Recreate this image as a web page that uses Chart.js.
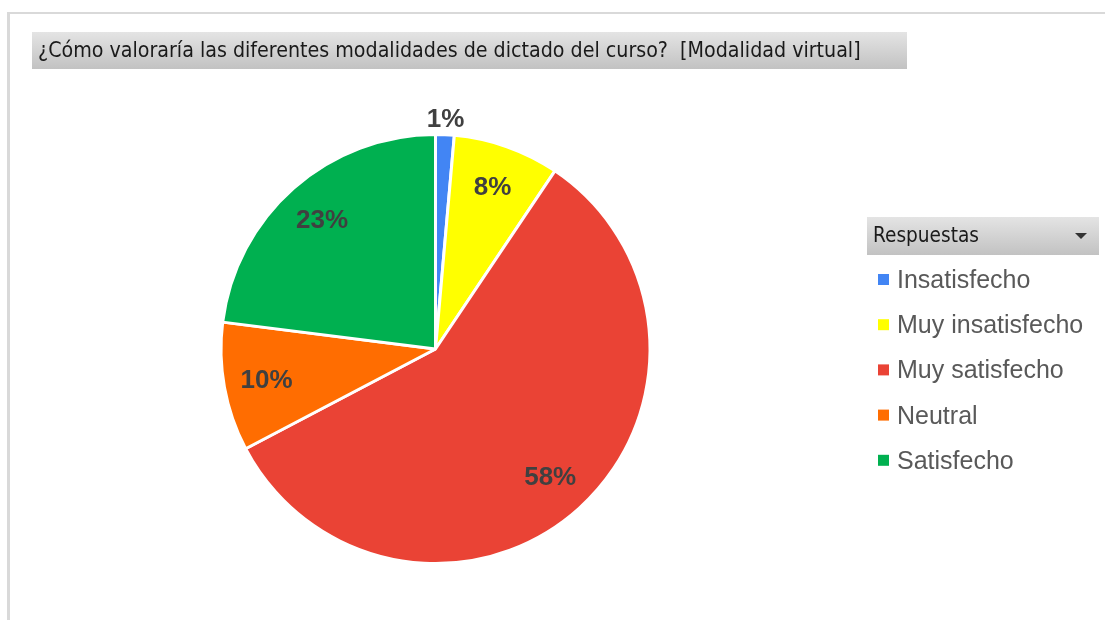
<!DOCTYPE html>
<html>
<head>
<meta charset="utf-8">
<script src="https://cdn.jsdelivr.net/npm/chart.js@4"></script>
<style>
  html, body { margin: 0; padding: 0; background: #fff; }
</style>
</head>
<body>
<canvas id="myChart" width="1105" height="620"></canvas>
<script>
// chart data (percent of answers)
const titleText = "¿Cómo valoraría las diferentes modalidades de dictado del curso?  [Modalidad virtual]";
const legendTitle = "Respuestas";
const categories = ["Insatisfecho", "Muy insatisfecho", "Muy satisfecho", "Neutral", "Satisfecho"];
const values = [1.4, 8.0, 57.9, 9.7, 23.0];
const colors = ["#4285f4", "#ffff00", "#ea4335", "#ff6d01", "#00b050"];

const uiFont = '"DejaVu Sans Condensed", "DejaVu Sans", sans-serif';
const bodyFont = '"Liberation Sans", Arial, sans-serif';

function grayBox(ctx, x, y, w, h) {
   let g = ctx.createLinearGradient(0, y, 0, y + h);
   g.addColorStop(0, "#e4e4e4");
   g.addColorStop(1, "#c2c2c2");
   ctx.fillStyle = g;
   ctx.fillRect(x, y, w, h);
}

// frame, title button and legend header (pivot chart look)
const decorPlugin = {
   id: "decor",
   beforeDraw(chart) {
      const ctx = chart.ctx;
      ctx.save();
      ctx.fillStyle = "#fff";
      ctx.fillRect(0, 0, chart.width, chart.height);
      ctx.fillStyle = "#d9d9d9";
      ctx.fillRect(8, 12, chart.width - 8, 2);
      ctx.fillRect(7, 12, 3, chart.height - 12);

      // title button
      grayBox(ctx, 32, 32, 875, 37);
      ctx.fillStyle = "#1a1a1a";
      ctx.textBaseline = "middle";
      ctx.font = "20px " + uiFont;
      let w = ctx.measureText(titleText).width;
      let size = 20 * 823 / w;
      ctx.font = size.toFixed(2) + "px " + uiFont;
      ctx.fillText(titleText, 38, 51);

      // legend header
      grayBox(ctx, 867, 217, 232, 38);
      ctx.fillStyle = "#1a1a1a";
      ctx.font = "20px " + uiFont;
      w = ctx.measureText(legendTitle).width;
      ctx.font = (20 * 106 / w).toFixed(2) + "px " + uiFont;
      ctx.fillText(legendTitle, 873, 237);
      ctx.fillStyle = "#333";
      ctx.beginPath();
      ctx.moveTo(1075, 233);
      ctx.lineTo(1087, 233);
      ctx.lineTo(1081, 239);
      ctx.closePath();
      ctx.fill();
      ctx.restore();
   },
   afterDatasetsDraw(chart) {
      const ctx = chart.ctx;
      const meta = chart.getDatasetMeta(0);
      const data = chart.data.datasets[0].data;
      const total = data.reduce((a, b) => a + b, 0);
      ctx.save();

      // percentage labels
      ctx.font = "bold 26px " + bodyFont;
      ctx.fillStyle = "#404040";
      ctx.textAlign = "center";
      ctx.textBaseline = "middle";
      meta.data.forEach((arc, i) => {
         const p = arc.getProps(["x", "y", "startAngle", "endAngle", "outerRadius"], true);
         const mid = (p.startAngle + p.endAngle) / 2;
         const pct = data[i] / total * 100;
         const dist = pct < 3 ? p.outerRadius + 16 : p.outerRadius * 0.8;
         ctx.fillText(Math.round(pct) + "%", p.x + Math.cos(mid) * dist, p.y + Math.sin(mid) * dist + 1);
      });

      // legend items
      ctx.textAlign = "left";
      ctx.textBaseline = "alphabetic";
      ctx.font = "25px " + bodyFont;
      chart.data.labels.forEach((lab, i) => {
         const base = 288 + i * 45.2;
         ctx.fillStyle = colors[i];
         ctx.fillRect(878, base - 14, 11, 11);
         ctx.fillStyle = "#595959";
         ctx.fillText(lab, 897, base);
      });
      ctx.restore();
   }
};

let ctx = document.getElementById("myChart").getContext("2d");
let pieChart = new Chart(ctx, {
   type: "pie",
   data: {
      labels: categories,
      datasets: [{
         data: values,
         backgroundColor: colors,
         borderColor: "#ffffff",
         borderWidth: 3,
         hoverOffset: 0
      }]
   },
   options: {
      responsive: false,
      animation: false,
      layout: {
         padding: { left: 219.5, right: 453.5, top: 133, bottom: 55 }
      },
      plugins: {
         legend: { display: false },
         tooltip: { enabled: false }
      }
   },
   plugins: [decorPlugin]
});
</script>
</body>
</html>
